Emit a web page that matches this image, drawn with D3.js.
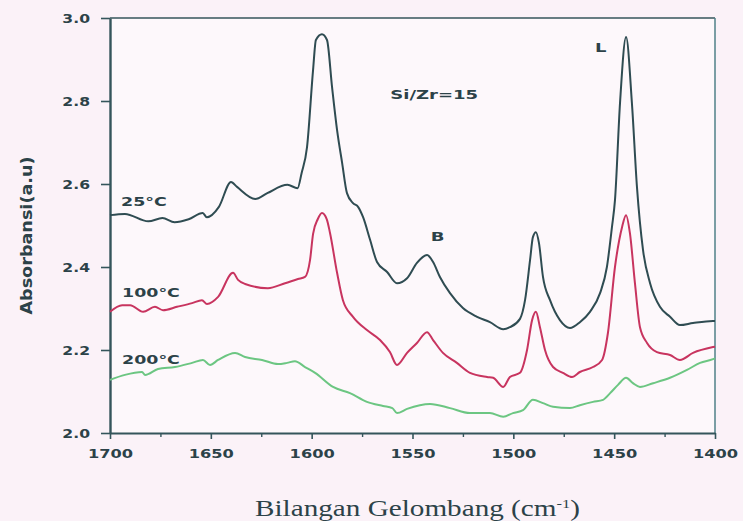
<!DOCTYPE html>
<html>
<head>
<meta charset="utf-8">
<script src="https://cdn.jsdelivr.net/npm/d3@7"></script>
<style>
  html, body { margin: 0; padding: 0; background: #fbf2f8; }
  svg { display: block; }
</style>
</head>
<body>
<svg id="chart" width="743" height="521"></svg>
<script>
// FTIR pyridine adsorption spectra, Si/Zr = 15, after evacuation at three temperatures
const wn25 = [1700, 1692.6, 1681, 1674, 1668, 1661, 1654, 1652, 1646, 1640, 1637, 1628, 1622, 1612, 1607, 1605,
  1602.3, 1599.3, 1597.9, 1594.9, 1592.4, 1589.9, 1587.4, 1584.9, 1582.5, 1579.5, 1577, 1574.5, 1571, 1567.6,
  1562.6, 1557.7, 1552.7, 1547.8, 1542.8, 1539.8, 1536.4, 1531.4, 1525, 1518, 1511.6, 1505, 1501.7, 1496.7,
  1494.2, 1491.7, 1490.3, 1488.8, 1487.3, 1485.3, 1481.8, 1476.9, 1471.9, 1467, 1462, 1457, 1453.6, 1451.1,
  1449.6, 1447.1, 1444.1, 1441.2, 1438.7, 1435.7, 1432.2, 1427.3, 1422.3, 1417.4, 1410.9, 1401, 1400];
const abs25 = [2.525, 2.528, 2.51, 2.518, 2.508, 2.515, 2.53, 2.52, 2.545, 2.605, 2.593, 2.564, 2.578, 2.598, 2.59, 2.626,
  2.689, 2.875, 2.947, 2.961, 2.947, 2.834, 2.73, 2.651, 2.578, 2.554, 2.545, 2.52, 2.465, 2.412,
  2.388, 2.361, 2.373, 2.41, 2.429, 2.412, 2.376, 2.337, 2.301, 2.28, 2.267, 2.25, 2.255, 2.275,
  2.32, 2.417, 2.472, 2.484, 2.458, 2.376, 2.32, 2.272, 2.253, 2.267, 2.292, 2.337, 2.40, 2.496,
  2.561, 2.795, 2.954, 2.795, 2.593, 2.441, 2.361, 2.304, 2.28, 2.26, 2.265, 2.27, 2.27];

const wn100 = [1700, 1694, 1690, 1683.6, 1677.7, 1673.7, 1666.8, 1659.3, 1654.4, 1651.9, 1646.4, 1639, 1636.5, 1633,
  1621.7, 1613.2, 1606.8, 1603.3, 1600.8, 1599.3, 1597, 1594.9, 1592.5, 1590.9, 1587.4, 1584.5, 1579.5, 1572.6,
  1566.1, 1561.2, 1557.7, 1552.7, 1547.8, 1542.8, 1539.8, 1534.9, 1528, 1521.5, 1513, 1510, 1505, 1501.7,
  1496.7, 1493.2, 1490.7, 1488.8, 1486.8, 1484.3, 1480.3, 1475.4, 1470.9, 1467, 1460.5, 1456, 1453.1, 1449.6,
  1446.1, 1444.1, 1442.2, 1439.7, 1437.2, 1433.7, 1428.8, 1422.3, 1417.4, 1410.9, 1401, 1400];
const abs100 = [2.292, 2.308, 2.308, 2.292, 2.304, 2.296, 2.304, 2.313, 2.32, 2.311, 2.328, 2.386, 2.369, 2.359,
  2.349, 2.361, 2.371, 2.376, 2.417, 2.48, 2.515, 2.53, 2.515, 2.482, 2.386, 2.32, 2.28, 2.248,
  2.224, 2.195, 2.164, 2.193, 2.217, 2.243, 2.224, 2.193, 2.169, 2.145, 2.135, 2.133, 2.111, 2.135,
  2.145, 2.2, 2.272, 2.292, 2.255, 2.2, 2.159, 2.145, 2.135, 2.147, 2.159, 2.176, 2.241, 2.40,
  2.496, 2.525, 2.482, 2.361, 2.255, 2.217, 2.195, 2.188, 2.176, 2.193, 2.207, 2.208];

const wn200 = [1700, 1692.6, 1684.1, 1682.6, 1676.2, 1667.8, 1659.3, 1653.9, 1650.4, 1646.4, 1638, 1633, 1624.6,
  1616.7, 1612.2, 1608.3, 1603.3, 1598.3, 1589.4, 1581, 1572.6, 1564.6, 1560, 1557.7, 1552.7, 1541.3, 1531.4,
  1521.5, 1511.6, 1505, 1500.2, 1495.2, 1490.3, 1485.3, 1480.3, 1471.9, 1467, 1460.5, 1455.5, 1452, 1448.1,
  1444.1, 1440.7, 1437.2, 1430.7, 1422.3, 1413.9, 1407.4, 1401, 1400];
const abs200 = [2.128, 2.14, 2.147, 2.14, 2.154, 2.159, 2.169, 2.176, 2.164, 2.176, 2.193, 2.183, 2.176,
  2.166, 2.169, 2.173, 2.159, 2.145, 2.111, 2.096, 2.075, 2.065, 2.06, 2.048, 2.058, 2.07, 2.06,
  2.048, 2.048, 2.039, 2.048, 2.055, 2.08, 2.072, 2.063, 2.06, 2.067, 2.075, 2.08, 2.096, 2.116,
  2.133, 2.12, 2.111, 2.12, 2.133, 2.152, 2.169, 2.178, 2.18];

const seriesNames = ["25°C", "100°C", "200°C"];
const seriesColors = ["#2f4c52", "#c8345f", "#6cc682"];
const xTicks = [1700, 1650, 1600, 1550, 1500, 1450, 1400];
const xMinorTicks = [1675, 1625, 1575, 1525, 1475, 1425];
const yTicks = [2.0, 2.2, 2.4, 2.6, 2.8, 3.0];

// Series label anchors (wavenumber, absorbance) and peak annotations
const seriesLabelPos = [[1694.5, 2.547], [1694, 2.328], [1694, 2.167]];
const peakLabels = ["B", "L", "Si/Zr=15"];
const peakLabelPos = [[1541, 2.463], [1459.5, 2.917], [1561, 2.805]];

const svg = d3.select("#chart");
const W = 743, H = 521;
const m = { left: 110, right: 28, top: 18, bottom: 88 };
const x = d3.scaleLinear().domain([1700, 1400]).range([m.left, W - m.right]);
const y = d3.scaleLinear().domain([2.0, 3.0]).range([H - m.bottom, m.top]);

const ink = "#2c4248";
const axisCol = "#34555b";

svg.append("rect").attr("width", W).attr("height", H).attr("fill", "#fbf2f8");
svg.append("rect")
  .attr("x", m.left).attr("y", m.top)
  .attr("width", x(1400) - m.left).attr("height", y(2.0) - m.top)
  .attr("fill", "#fdf8fb");

// Stretch bold sans labels horizontally to the wide face used on the plot
function widen(sel, k) {
  sel.each(function () {
    const w = this.getComputedTextLength();
    d3.select(this).attr("textLength", w * k).attr("lengthAdjust", "spacingAndGlyphs");
  });
}

// Frame: top and right edges
svg.append("line").attr("x1", m.left).attr("x2", x(1400)).attr("y1", m.top).attr("y2", m.top)
  .attr("stroke", axisCol).attr("stroke-width", 1.5);
svg.append("line").attr("x1", x(1400)).attr("x2", x(1400)).attr("y1", m.top).attr("y2", y(2.0))
  .attr("stroke", "#4f8088").attr("stroke-width", 1.5);

// X axis
const gx = svg.append("g").attr("transform", `translate(0,${y(2.0)})`)
  .call(d3.axisBottom(x).tickValues(xTicks).tickSize(6).tickSizeOuter(0).tickFormat(d3.format("d")));
gx.select(".domain").attr("stroke", axisCol).attr("stroke-width", 2.2);
gx.selectAll(".tick line").attr("stroke", axisCol).attr("stroke-width", 1.6);
gx.selectAll(".tick text")
  .attr("dy", 0).attr("y", 25)
  .attr("fill", ink).attr("font-family", "DejaVu Sans").attr("font-weight", "bold").attr("font-size", 12)
  .call(widen, 1.35);
const gxm = svg.append("g").attr("transform", `translate(0,${y(2.0)})`)
  .call(d3.axisBottom(x).tickValues(xMinorTicks).tickSize(4).tickFormat(""));
gxm.select(".domain").remove();
gxm.selectAll(".tick line").attr("stroke", axisCol).attr("stroke-width", 1.4);

// Y axis
const gy = svg.append("g").attr("transform", `translate(${m.left},0)`)
  .call(d3.axisLeft(y).tickValues(yTicks).tickSize(9).tickSizeOuter(0).tickFormat(d3.format(".1f")));
gy.select(".domain").attr("stroke", axisCol).attr("stroke-width", 2.4);
gy.selectAll(".tick line").attr("stroke", axisCol).attr("stroke-width", 1.6);
gy.selectAll(".tick text")
  .attr("x", -20).attr("dy", "0.36em")
  .attr("fill", ink).attr("font-family", "DejaVu Sans").attr("font-weight", "bold").attr("font-size", 12)
  .call(widen, 1.3);

// Spectra
const line = d3.line().x(d => x(d[0])).y(d => y(d[1])).curve(d3.curveMonotoneX);
const spectra = [d3.zip(wn25, abs25), d3.zip(wn100, abs100), d3.zip(wn200, abs200)];
spectra.forEach((pts, i) => {
  svg.append("path").datum(pts)
    .attr("d", line)
    .attr("fill", "none")
    .attr("stroke", seriesColors[i])
    .attr("stroke-width", 2)
    .attr("stroke-linejoin", "round");
});

// Series labels
seriesNames.forEach((name, i) => {
  svg.append("text")
    .attr("x", x(seriesLabelPos[i][0])).attr("y", y(seriesLabelPos[i][1]))
    .attr("fill", ink).attr("font-family", "DejaVu Sans").attr("font-weight", "bold").attr("font-size", 12)
    .text(name)
    .call(widen, 1.45);
});

// Peak / sample annotations
peakLabels.forEach((t, i) => {
  svg.append("text")
    .attr("x", x(peakLabelPos[i][0])).attr("y", y(peakLabelPos[i][1]))
    .attr("fill", ink).attr("font-family", "DejaVu Sans").attr("font-weight", "bold").attr("font-size", 12)
    .text(t)
    .call(widen, 1.5);
});

// Axis titles
svg.append("text")
  .attr("transform", `translate(32,${(y(2.0) + m.top) / 2 + 10}) rotate(-90)`)
  .attr("text-anchor", "middle")
  .attr("fill", ink).attr("font-family", "DejaVu Sans").attr("font-weight", "bold").attr("font-size", 16)
  .text("Absorbansi(a.u)")
  .call(widen, 1.1);

const xt = svg.append("text")
  .attr("x", 255).attr("y", 516)
  .attr("fill", ink).attr("font-family", "Liberation Serif").attr("font-size", 23);
xt.append("tspan").text("Bilangan Gelombang (cm");
xt.append("tspan").attr("dy", -8).attr("font-size", 13).text("-1");
xt.append("tspan").attr("dy", 8).text(")");
xt.attr("textLength", 325).attr("lengthAdjust", "spacingAndGlyphs");
</script>
</body>
</html>
